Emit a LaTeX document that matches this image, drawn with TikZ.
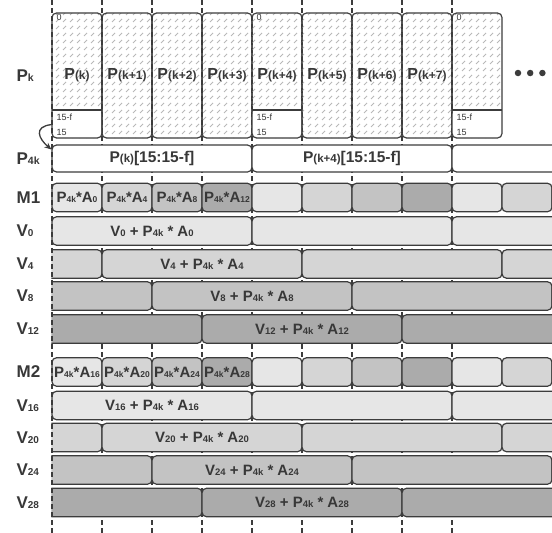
\documentclass[tikz,border=0pt]{standalone}
\usepackage{fontspec}
\setmainfont{Liberation Sans}
\usetikzlibrary{positioning,arrows.meta,patterns.meta}

\definecolor{lineC}{HTML}{3C3C3C}
\definecolor{txtC}{HTML}{383838}
\definecolor{sh0}{HTML}{E6E6E6}
\definecolor{sh1}{HTML}{D5D5D5}
\definecolor{sh2}{HTML}{C3C3C3}
\definecolor{sh3}{HTML}{ABABAB}
\definecolor{hatchC}{HTML}{B8B8B8}

% small index, kept on the baseline
\newcommand\ix[2][8.5]{{\fontsize{#1}{#1}\selectfont #2}}

\tikzdeclarepattern{
  name=hatch, type=uncolored,
  bottom left={(-1pt,-1pt)}, top right={(8pt,8pt)},
  tile size={(7pt,7pt)},
  code={\draw[line width=0.8pt] (0pt,0pt) -- (3pt,3pt);}
}

\begin{document}
\begin{tikzpicture}[x=1pt, y=-1pt, line width=1.2pt,
  cell/.style={draw=lineC, rounded corners=4.5pt, inner sep=0pt,
               minimum height=28.5pt, text=txtC,
               font=\fontsize{15}{15}\selectfont\bfseries},
  pkbox/.style={cell, minimum width=50pt, minimum height=125pt,
                pattern=hatch, pattern color=hatchC,
                font=\fontsize{16}{16}\selectfont\bfseries},
  pfbox/.style={cell, fill=white, minimum width=200pt, minimum height=27pt,
                font=\fontsize{15.5}{15.5}\selectfont\bfseries},
  subpart/.style={path picture={
      \fill[white] ([yshift=28pt]path picture bounding box.south west)
                   rectangle (path picture bounding box.south east);
      \draw[lineC] ([yshift=28pt]path picture bounding box.south west)
                   -- ([yshift=28pt]path picture bounding box.south east);}},
  nosub/.style={},
  bitno/.style={font=\fontsize{9}{9}\selectfont, text=txtC, inner sep=0pt, anchor=west},
  rowlab/.style={font=\fontsize{17}{17}\selectfont\bfseries, text=txtC,
                 inner sep=0pt, anchor=west},
  grid/.style={draw=lineC, line width=1.1pt, dash pattern=on 5pt off 3pt},
  arr/.style={-{Stealth[length=7pt,width=6pt]}, draw=lineC, line width=1.3pt},
  dot/.style={circle, fill=lineC, inner sep=0pt, minimum size=6.5pt}
]
\path[use as bounding box] (0,0) rectangle (552,533);

% time slots
\foreach \x in {102,152,...,452}
  \draw[grid] (\x,0) -- (\x,533);

\begin{scope}
\clip (51.4,0) rectangle (552,533);
% input words
\foreach \t/\s [count=\i from 0] in {k/subpart, k+1/nosub, k+2/nosub, k+3/nosub,
                                    k+4/subpart, k+5/nosub, k+6/nosub, k+7/nosub}
  \node[pkbox, \s] (pk\i) at (77+50*\i, 75.5) {P\ix[12]{(\t)}};
\node[pkbox, subpart] (pk8) at (477, 75.5) {};
\foreach \i in {0,4,8} {
  \node[bitno] (bz\i) at ([shift={(4.5pt,-5.5pt)}]pk\i.north west) {0};
  \node[bitno] (bf\i) at ([shift={(4.5pt,21pt)}]pk\i.south west) {15-f};
  \node[bitno] (bl\i) at ([shift={(4.5pt,6.5pt)}]pk\i.south west) {15};
}
% packed word
\node[pfbox] (pf0) at (152,158.5) {P\ix[11.5]{(k)}[15:15-f]};
\node[pfbox] (pf1) at (352,158.5) {P\ix[11.5]{(k+4)}[15:15-f]};
\node[pfbox] (pf2) at (552,158.5) {};
% multipliers
\foreach \m/\y/\b in {1/197.5/0, 2/372/16} {
  \foreach \i in {0,...,10} {
    \pgfmathtruncatemacro\c{mod(\i,4)}
    \pgfmathtruncatemacro\a{\b+4*\i}
    \node[cell, fill=sh\c, minimum width=50pt] (m\m-\i) at (77+50*\i, \y)
      {\ifnum\i<4 P\ix{4k}*A\ix{\a}\fi};
  }
}
% accumulators
\foreach \r/\y/\n in {0/231/0, 1/264/4, 2/296/8, 3/329/12,
                      0/405.5/16, 1/437.5/20, 2/470/24, 3/502.5/28} {
  \foreach \s in {0,1,2,3} {
    \ifnum\numexpr\r+\s\relax=0 \else
    \node[cell, fill=sh\r, minimum width=200pt] (v\n-\s) at (-48+50*\r+200*\s, \y)
      {\ifnum\s=1 V\ix[9.5]{\n} + P\ix[9.5]{4k} * A\ix[9.5]{\n}\fi};
    \fi
  }
}
\end{scope}
\draw[grid] (52,0) -- (52,533);

\draw[arr] ([yshift=14pt]pk0.south west) .. controls +(-18,2) and +(-13,-11) ..
  ([yshift=9pt]pf0.west);

% row names
\node[rowlab] (lpk) at (16,76) {P\ix[10.5]{k}};
\node[rowlab] (lpf) at (16,159) {P\ix[10.5]{4k}};
\node[rowlab] (lm1) at (16,197.5) {M1};
\node[rowlab] (lm2) at (16,372) {M2};
\foreach \n/\y in {0/231, 4/264, 8/296, 12/329, 16/405.5, 20/437.5, 24/470, 28/502.5}
  \node[rowlab] (lv\n) at (16,\y) {V\ix[10]{\n}};

\node[dot] (d1) at (518,73) {};
\node[dot, right=4.5pt of d1] (d2) {};
\node[dot, right=4.5pt of d2] (d3) {};
\end{tikzpicture}
\end{document}
